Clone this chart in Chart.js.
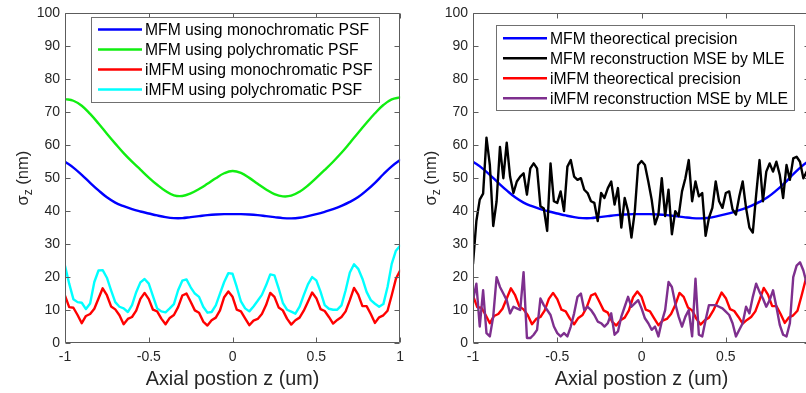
<!DOCTYPE html>
<html><head><meta charset="utf-8">
<script src="https://cdn.jsdelivr.net/npm/chart.js@4/dist/chart.umd.min.js"></script>
<style>
html,body{margin:0;padding:0;background:#fff;overflow:hidden;width:806px;height:393px;position:relative;}
#wrapL{position:absolute;left:0;top:0;width:410px;height:393px;}
#wrapR{position:absolute;left:410px;top:0;width:410px;height:393px;}
canvas{display:block;}
</style></head><body>
<div id="wrapL"><canvas id="cL" width="410" height="393"></canvas></div>
<div id="wrapR"><canvas id="cR" width="410" height="393"></canvas></div>
<script>
// ---------- data ----------
const xTicks = [-1, -0.5, 0, 0.5, 1];
const yTicks = [0, 10, 20, 30, 40, 50, 60, 70, 80, 90, 100];

// z positions (um)
const zSmooth = [-1,-0.95,-0.9,-0.85,-0.8,-0.75,-0.7,-0.65,-0.6,-0.55,-0.5,-0.45,-0.4,-0.35,-0.3,-0.25,-0.2,-0.15,-0.1,-0.05,0,
  0.05,0.1,0.15,0.2,0.25,0.3,0.35,0.4,0.45,0.5,0.55,0.6,0.65,0.7,0.75,0.8,0.85,0.9,0.95,1];
const zMid = [-1,-0.975,-0.95,-0.925,-0.9,-0.875,-0.85,-0.825,-0.8,-0.775,-0.75,-0.725,-0.7,-0.675,-0.65,-0.625,-0.6,-0.575,-0.55,-0.525,
  -0.5,-0.475,-0.45,-0.425,-0.4,-0.375,-0.35,-0.325,-0.3,-0.275,-0.25,-0.225,-0.2,-0.175,-0.15,-0.125,-0.1,-0.075,-0.05,-0.025,
  0,0.025,0.05,0.075,0.1,0.125,0.15,0.175,0.2,0.225,0.25,0.275,0.3,0.325,0.35,0.375,0.4,0.425,0.45,0.475,
  0.5,0.525,0.55,0.575,0.6,0.625,0.65,0.675,0.7,0.725,0.75,0.775,0.8,0.825,0.85,0.875,0.9,0.925,0.95,0.975,1];
const zFine = [-1,-0.98,-0.96,-0.94,-0.92,-0.9,-0.88,-0.86,-0.84,-0.82,-0.8,-0.78,-0.76,-0.74,-0.72,-0.7,-0.68,-0.66,-0.64,-0.62,
  -0.6,-0.58,-0.56,-0.54,-0.52,-0.5,-0.48,-0.46,-0.44,-0.42,-0.4,-0.38,-0.36,-0.34,-0.32,-0.3,-0.28,-0.26,-0.24,-0.22,
  -0.2,-0.18,-0.16,-0.14,-0.12,-0.1,-0.08,-0.06,-0.04,-0.02,0,0.02,0.04,0.06,0.08,0.1,0.12,0.14,0.16,0.18,
  0.2,0.22,0.24,0.26,0.28,0.3,0.32,0.34,0.36,0.38,0.4,0.42,0.44,0.46,0.48,0.5,0.52,0.54,0.56,0.58,
  0.6,0.62,0.64,0.66,0.68,0.7,0.72,0.74,0.76,0.78,0.8,0.82,0.84,0.86,0.88,0.9,0.92,0.94,0.96,0.98,1];

// sigma_z (nm)
const mfmMono = [55,53.2,51,48.6,46.3,44.2,42.6,41.5,40.6,39.9,39.3,38.7,38.2,37.9,37.9,38.2,38.5,38.8,39,39.1,39.1,
  39.1,39,38.8,38.5,38.2,37.9,37.8,38,38.5,39.1,39.8,40.6,41.6,42.8,44.3,46.3,48.6,51.2,53.6,55.5];
const mfmPoly = [74,73.5,72,69.5,66.6,63.5,60.5,57.6,55,52.6,50.2,48,46.1,44.8,44.6,45.4,46.7,48.3,50,51.5,52.2,
  51.6,50.1,48.3,46.6,45.2,44.5,44.7,45.9,47.8,50.1,52.5,55,57.7,60.7,63.8,66.8,69.7,72.2,73.9,74.5];
const imfmMono = [14.4,10.9,10.7,8.5,6.0,8.2,8.8,10.4,13.5,16.6,
  14.5,11.1,10.2,8.4,5.7,7.3,7.9,9.8,13.4,15.2,
  13.3,10.1,9.6,7.4,5.7,7.6,8.5,10.9,14.4,15.0,
  12.5,9.9,9.2,6.5,5.3,6.9,7.7,9.9,13.9,15.6,
  14.0,10.1,9.6,7.5,5.4,6.8,7.3,8.8,11.5,15.2,
  14.0,10.8,9.9,7.4,5.6,6.9,7.7,9.8,12.5,15.3,
  13.6,10.3,9.7,7.9,5.9,7.0,7.9,9.6,13.0,16.7,
  14.7,11.2,11.2,8.8,6.1,7.8,8.4,9.8,14.5,19.5,22.0];
const imfmPoly = [23.4,18.0,13.3,12.4,12.2,10.3,12.0,18.5,22.0,22.1,
  19.8,16.0,12.4,11.0,10.5,9.4,11.5,15.4,18.4,19.4,
  18.0,14.2,10.5,9.6,9.3,10.5,11.8,16.0,18.9,19.3,
  16.9,15.0,14.0,11.0,9.2,9.4,11.4,15.0,18.5,21.2,
  21.0,17.0,12.6,10.5,9.6,11.1,12.8,14.6,17.5,20.8,
  20.5,16.6,12.2,10.1,9.5,8.9,11.0,14.5,17.8,20.0,
  19.0,15.6,11.5,10.4,10.1,10.1,11.4,16.0,21.4,23.9,
  22.5,19.5,15.5,13.0,11.9,11.0,11.8,17.0,24.0,28.0,29.5];
const mfmMLE = [24,37,43.5,45.3,62.3,54,35.5,43,59.5,50,
  60.8,50.5,45.5,49,50.5,51.5,45,53,54.5,53,
  41.5,40.8,34,54.5,43,42.5,46,40,53.5,55.5,
  50.5,49.5,50,46.5,45.5,43,42.5,37,45.5,44,
  47,49,42,47,35,44,40,32,40,54,
  55.2,54,49,43.5,36,39,50,38.5,46.5,33,
  40,38.5,46,50,55.5,43,49,44.5,45.5,32.5,
  38,41,49,43,41,45.5,46,40.5,39,44.5,
  49,41,35,33.5,45,55.5,43,52,54.5,52,
  55,51,44,54,49.5,56,56.5,55,50,52,54];
const imfmMLE = [13,18,5,16,3,2,8,20,17,15,
  13,9,11,10.5,10,21.5,1.5,1.5,2.5,4,
  13.5,11.5,10,8.5,5,3,2,3,2,5,
  9,14,15,10,11,10,8.5,6.5,6,5,
  6,9,2.5,3.5,8,11,14,11,12,13,
  10.5,7.5,6,4,5,2,6.5,10,18.5,17,
  12,8,5,8,10,2,19.5,2.5,2,7,
  11.5,11.5,11.5,11,10.5,9.5,8.5,6,2,4,
  6,11,9,14,18,15.5,13.5,11,13,16,
  11,5.5,2.5,2,6,20,23.5,24.5,22,18,15];

const pts = (xs, ys) => xs.map((x, i) => ({x: x, y: ys[i]}));

// ---------- decoration plugin (box, inward ticks, titles, legend) ----------
const FONT = '"Liberation Sans", Arial, Helvetica, sans-serif';
const deco = {
  id: 'deco',
  afterDatasetsDraw(chart, args, o) {
    const ctx = chart.ctx, a = chart.chartArea, xs = chart.scales.x, ys = chart.scales.y;
    ctx.save();
    // axes box
    ctx.strokeStyle = '#5c5c5c'; ctx.lineWidth = 1;
    const L = Math.round(a.left) + 0.5, T = Math.round(a.top) + 0.5;
    const R = Math.round(a.right) - 0.5, B = Math.round(a.bottom) - 0.5;
    ctx.beginPath();
    ctx.moveTo(L, T); ctx.lineTo(R, T); ctx.lineTo(R, B); ctx.lineTo(L, B); ctx.closePath();
    xTicks.forEach(v => {
      const px = Math.round(xs.getPixelForValue(v)) + 0.5;
      ctx.moveTo(px, B); ctx.lineTo(px, B - 5);
      ctx.moveTo(px, T); ctx.lineTo(px, T + 5);
    });
    yTicks.forEach(v => {
      const py = Math.round(ys.getPixelForValue(v)) + 0.5;
      ctx.moveTo(L, py); ctx.lineTo(L + 5, py);
      ctx.moveTo(R, py); ctx.lineTo(R - 5, py);
    });
    ctx.stroke();

    // x title
    ctx.fillStyle = '#262626';
    ctx.font = '19.8px ' + FONT;
    ctx.textAlign = 'center'; ctx.textBaseline = 'alphabetic';
    ctx.fillText(o.xTitle, (a.left + a.right) / 2, 385);

    // y title: sigma with subscript z
    ctx.save();
    ctx.translate(a.left - 37, (a.top + a.bottom) / 2);
    ctx.rotate(-Math.PI / 2);
    ctx.textAlign = 'left';
    const f1 = '16.5px ' + FONT, f2 = '12px ' + FONT;
    ctx.font = f1; const w1 = ctx.measureText(o.ySym).width;
    ctx.font = f2; const w2 = ctx.measureText(o.ySub).width;
    ctx.font = f1; const w3 = ctx.measureText(o.yUnit).width;
    let u = -(w1 + w2 + w3) / 2;
    ctx.font = f1; ctx.fillText(o.ySym, u, 0); u += w1;
    ctx.font = f2; ctx.fillText(o.ySub, u, 4); u += w2;
    ctx.font = f1; ctx.fillText(o.yUnit, u, 0);
    ctx.restore();

    // legend
    const lg = o.legend;
    const dsets = chart.data.datasets;
    ctx.font = '15.7px ' + FONT;
    const maxW = Math.max(...dsets.map(d => ctx.measureText(d.label).width));
    const right = Math.round(lg.textX + maxW + 6);
    const bottom = Math.round(lg.row0 + (dsets.length - 1) * lg.rowH + 12);
    ctx.fillStyle = '#ffffff';
    ctx.fillRect(lg.left, lg.top, right - lg.left, bottom - lg.top);
    ctx.strokeStyle = '#707070'; ctx.lineWidth = 1;
    ctx.strokeRect(lg.left + 0.5, lg.top + 0.5, right - lg.left, bottom - lg.top);
    dsets.forEach((d, i) => {
      const cy = lg.row0 + i * lg.rowH;
      ctx.strokeStyle = d.borderColor; ctx.lineWidth = 2.4;
      ctx.beginPath(); ctx.moveTo(lg.lineX0, cy); ctx.lineTo(lg.lineX1, cy); ctx.stroke();
      ctx.fillStyle = '#000';
      ctx.textAlign = 'left'; ctx.textBaseline = 'middle';
      ctx.fillText(d.label, lg.textX, cy + 1);
    });
    ctx.restore();
  }
};

function opts(yWidth, legendPos) {
  return {
    responsive: false, animation: false, devicePixelRatio: 1,
    layout: {padding: {left: 0, right: 5, top: 10, bottom: 0}},
    elements: {point: {radius: 0}, line: {borderWidth: 2.4, borderJoinStyle: 'round', borderCapStyle: 'round'}},
    plugins: {
      legend: {display: false}, tooltip: {enabled: false},
      deco: {xTitle: 'Axial postion z (um)', ySym: 'σ', ySub: 'z', yUnit: ' (nm)', legend: legendPos}
    },
    scales: {
      x: {
        type: 'linear', min: -1, max: 1,
        afterBuildTicks: s => { s.ticks = xTicks.map(v => ({value: v})); },
        ticks: {font: {family: FONT, size: 14}, color: '#262626', padding: 6, maxRotation: 0, callback: v => String(v)},
        grid: {display: false, drawTicks: false}, border: {display: false},
        afterFit: s => { s.height = 50; }
      },
      y: {
        type: 'linear', min: 0, max: 100,
        afterBuildTicks: s => { s.ticks = yTicks.map(v => ({value: v})); },
        ticks: {font: {family: FONT, size: 14}, color: '#262626', padding: 5, callback: v => String(v)},
        grid: {display: false, drawTicks: false}, border: {display: false},
        afterFit: s => { s.width = yWidth; }
      }
    }
  };
}

const line = (label, color, data, order, tension) => ({
  label: label, data: data, borderColor: color, backgroundColor: color,
  fill: false, tension: tension || 0, order: order
});

new Chart(document.getElementById('cL'), {
  type: 'line',
  data: {datasets: [
    line('MFM using monochromatic PSF', '#0000ff', pts(zSmooth, mfmMono), 4, 0.4),
    line('MFM using polychromatic PSF', '#11ee11', pts(zSmooth, mfmPoly), 3, 0.4),
    line('iMFM using monochromatic PSF', '#ff0000', pts(zMid, imfmMono), 2),
    line('iMFM using polychromatic PSF', '#00ffff', pts(zMid, imfmPoly), 1)
  ]},
  options: opts(65, {left: 91, top: 17, lineX0: 98, lineX1: 142, textX: 145, row0: 29.5, rowH: 20}),
  plugins: [deco]
});

new Chart(document.getElementById('cR'), {
  type: 'line',
  data: {datasets: [
    line('MFM theorectical precision', '#0000ff', pts(zSmooth, mfmMono), 4, 0.4),
    line('MFM reconstruction MSE by MLE', '#000000', pts(zFine, mfmMLE), 3),
    line('iMFM theorectical precision', '#ff0000', pts(zMid, imfmMono), 2),
    line('iMFM reconstruction MSE by MLE', '#7e2f8e', pts(zFine, imfmMLE), 1)
  ]},
  options: opts(63, {left: 86, top: 25, lineX0: 93, lineX1: 137, textX: 140, row0: 38.3, rowH: 20}),
  plugins: [deco]
});
</script>
</body></html>
